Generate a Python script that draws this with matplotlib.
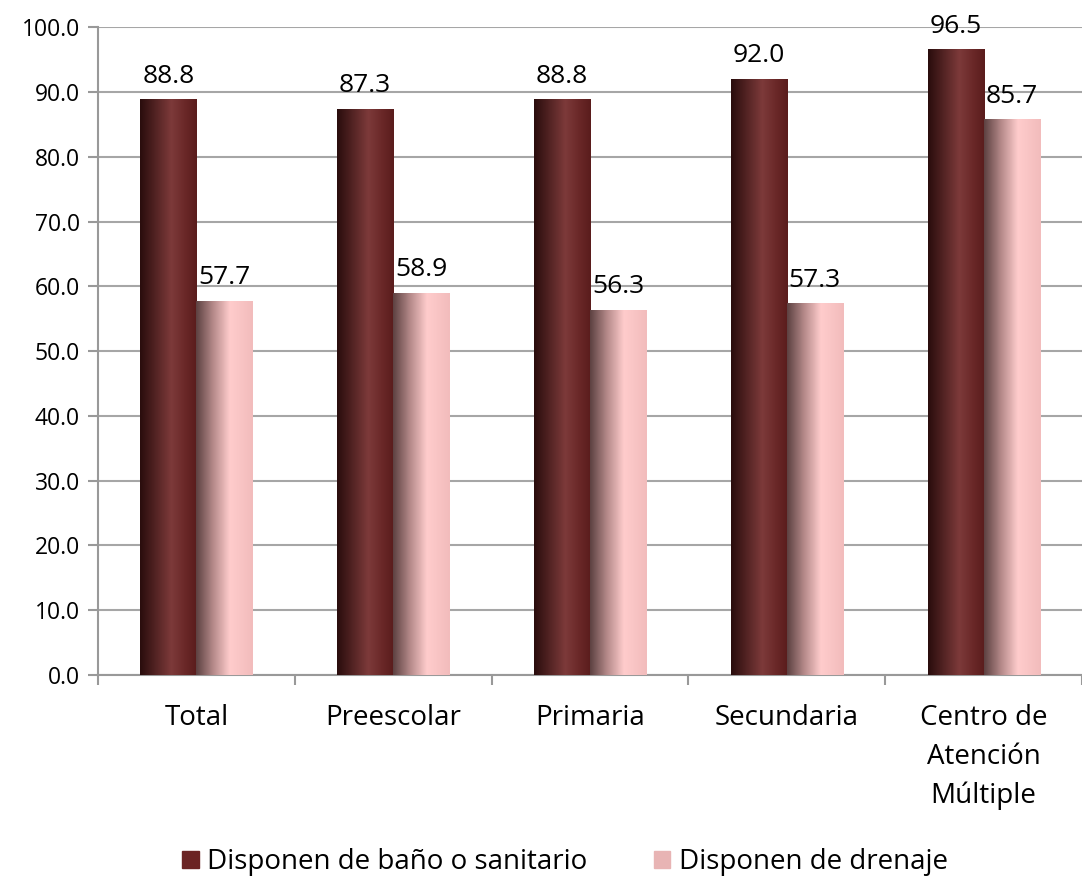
import numpy as np
import matplotlib.pyplot as plt
from matplotlib.colors import LinearSegmentedColormap

plt.rcParams['font.family'] = ['Open Sans', 'DejaVu Sans']

categories = ["Total", "Preescolar", "Primaria", "Secundaria", "Centro de\nAtención\nMúltiple"]
bano = [88.8, 87.3, 88.8, 92.0, 96.5]
drenaje = [57.7, 58.9, 56.3, 57.3, 85.7]
series_names = ["Disponen de baño o sanitario", "Disponen de drenaje"]

dark_cmap = LinearSegmentedColormap.from_list(
    "dark", [(0, "#2a0d0d"), (0.55, "#7d3a3a"), (0.8, "#6a2828"), (1, "#5a1c1c")])
light_cmap = LinearSegmentedColormap.from_list(
    "light", [(0, "#5e4242"), (0.3, "#b58a8a"), (0.6, "#ffcccc"), (1, "#f2bcbc")])

fig = plt.figure(figsize=(10.82, 8.80), dpi=100)
ax = fig.add_axes([0.0906, 0.233, 0.9094, 0.736])

x = np.arange(len(categories))
w = 0.285
grad = np.linspace(0, 1, 64).reshape(1, -1)

for vals, off, cmap in [(bano, -w / 2, dark_cmap), (drenaje, w / 2, light_cmap)]:
    bars = ax.bar(x + off, vals, w, color="none", zorder=3)
    for b, v in zip(bars, vals):
        x0 = b.get_x()
        ax.imshow(grad, cmap=cmap, extent=[x0, x0 + b.get_width(), 0, b.get_height()],
                  aspect="auto", zorder=3, interpolation="bicubic")
        ax.annotate(f"{v:.1f}", (b.get_x() + b.get_width() / 2, b.get_height()),
                    xytext=(0, 8), textcoords="offset points",
                    ha="center", va="bottom", fontsize=19)

ax.set_xlim(-0.5, len(categories) - 0.5)
ax.set_ylim(0, 100)
ax.set_yticks(np.arange(0, 101, 10))
ax.set_yticklabels([f"{t:.1f}" for t in np.arange(0, 101, 10)], fontsize=16.5)
ax.set_xticks(x)
ax.set_xticklabels(categories, fontsize=20, linespacing=1.5)
ax.set_xticks(np.arange(-0.5, len(categories), 1), minor=True)
ax.tick_params(axis="x", which="major", length=0, pad=21)
ax.tick_params(axis="x", which="minor", length=7, width=1.5, color="#999999")
ax.tick_params(axis="y", length=7, width=1.5, color="#999999", pad=6)
ax.yaxis.grid(True, color="#a6a6a6", linewidth=1.5, zorder=0)
ax.set_axisbelow(True)
for s in ["top", "right"]:
    ax.spines[s].set_visible(False)
for s in ["left", "bottom"]:
    ax.spines[s].set_color("#999999")
    ax.spines[s].set_linewidth(1.5)

handles = [plt.Rectangle((0, 0), 1, 1, color="#6b2424"),
           plt.Rectangle((0, 0), 1, 1, color="#e8b4b4")]
fig.legend(handles, series_names, loc="center", bbox_to_anchor=(0.522, 0.02),
           ncol=2, frameon=False, fontsize=20, handlelength=0.6, handleheight=0.6,
           handletextpad=0.3, columnspacing=2.4)

fig.savefig("out.png", dpi=100)
